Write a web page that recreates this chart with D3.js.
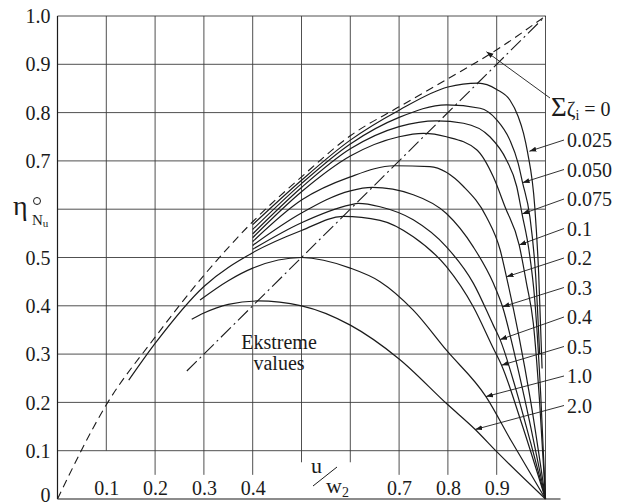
<!DOCTYPE html>
<html>
<head>
<meta charset="utf-8">
<script src="https://cdn.jsdelivr.net/npm/d3@7"></script>
<style>
  html, body { margin: 0; padding: 0; background: #fff; }
  svg, svg text { font-family: "Times New Roman", Times, "Liberation Serif", Tinos, "DejaVu Serif", "Noto Serif", serif; }
</style>
</head>
<body>
<svg id="chart" width="630" height="504"></svg>
<script>
// efficiency eta°_Nu against u/w2 for several loss sums (sum zeta_i)
const yTickLabels = [0, 0.1, 0.2, 0.3, 0.4, 0.5, 0.7, 0.8, 0.9, 1.0];
const xTickLabels = [0.1, 0.2, 0.3, 0.4, 0.7, 0.8, 0.9];
const gridVals = [0.1, 0.2, 0.3, 0.4, 0.5, 0.6, 0.7, 0.8, 0.9, 1.0];

// dashed envelope, sum zeta = 0
const zeta0 = [[0,0],[0.1,0.195],[0.2,0.335],[0.3,0.463],[0.4,0.574],[0.5,0.667],[0.6,0.752],
  [0.7,0.812],[0.8,0.870],[0.9,0.93],[1,1]];
// dash-dot line through the maxima
const extremes = [[0.265,0.265],[1,1]];

const z025 = [[0.4,0.568],[0.5,0.66],[0.6,0.743],[0.7,0.805],[0.8,0.853],[0.862,0.861],[0.9,0.848],
  [0.927,0.826],[0.944,0.792],[0.955,0.757],[0.963,0.719],[0.978,0.605],[0.986,0.467],[0.993,0.27]];
const z050 = [[0.4,0.558],[0.5,0.653],[0.6,0.735],[0.7,0.79],[0.797,0.816],[0.866,0.809],[0.9,0.785],
  [0.927,0.743],[0.944,0.695],[0.953,0.655],[0.968,0.584],[0.98,0.46],[0.988,0.30]];
const z075 = [[0.4,0.549],[0.5,0.645],[0.6,0.725],[0.7,0.771],[0.777,0.783],[0.832,0.778],[0.886,0.75],
  [0.92,0.702],[0.941,0.647],[0.952,0.59],[0.966,0.516],[0.978,0.412],[0.99,0.22],[1,0]];
const z100 = [[0.4,0.541],[0.5,0.636],[0.6,0.71],[0.7,0.75],[0.75,0.757],[0.797,0.75],[0.859,0.723],
  [0.893,0.667],[0.917,0.605],[0.946,0.526],[0.961,0.447],[0.975,0.364],[0.988,0.2],[1,0]];
const z200 = [[0.4,0.533],[0.5,0.619],[0.6,0.667],[0.69,0.69],[0.763,0.688],[0.832,0.647],[0.879,0.584],
  [0.907,0.516],[0.92,0.46],[0.945,0.34],[0.97,0.2],[1,0]];
const z300 = [[0.4,0.525],[0.5,0.592],[0.6,0.638],[0.645,0.645],[0.729,0.63],[0.797,0.591],[0.852,0.522],
  [0.893,0.447],[0.912,0.398],[0.94,0.285],[0.97,0.148],[1,0]];
const z400 = [[0.4,0.517],[0.5,0.572],[0.6,0.609],[0.616,0.612],[0.661,0.605],[0.729,0.578],[0.797,0.522],
  [0.852,0.447],[0.893,0.36],[0.907,0.33],[0.94,0.225],[0.97,0.115],[1,0]];
const z500 = [[0.146,0.246],[0.2,0.322],[0.3,0.44],[0.4,0.51],[0.5,0.556],[0.585,0.585],[0.661,0.577],
  [0.729,0.543],[0.797,0.481],[0.852,0.398],[0.893,0.312],[0.91,0.277],[0.95,0.16],[1,0]];
const z1000 = [[0.292,0.412],[0.35,0.452],[0.4,0.478],[0.5,0.5],[0.6,0.478],[0.661,0.45],[0.729,0.391],
  [0.797,0.308],[0.878,0.212],[0.93,0.12],[1,0]];
const z2000 = [[0.275,0.372],[0.3,0.385],[0.35,0.403],[0.41,0.41],[0.5,0.40],[0.6,0.36],[0.7,0.29],
  [0.8,0.195],[0.856,0.144],[0.9,0.098],[1,0]];

const solidCurves = [z025, z050, z075, z100, z200, z300, z400, z500, z1000, z2000];
const curveLabels = ['0.025','0.050','0.075','0.1','0.2','0.3','0.4','0.5','1.0','2.0'];
// where each leader line touches its curve (data units)
const leaderTargets = [[0.967,0.72],[0.953,0.655],[0.952,0.59],[0.946,0.526],[0.92,0.46],
  [0.912,0.398],[0.907,0.33],[0.91,0.277],[0.878,0.212],[0.856,0.144]];
const zeroTarget = [0.879, 0.926];

const FONT = '"Times New Roman", Times, "Liberation Serif", Tinos, "DejaVu Serif", "Noto Serif", serif';
const svg = d3.select('#chart').attr('font-family', FONT);
const x = d3.scaleLinear().domain([0, 1]).range([57.5, 545.5]);
const y = d3.scaleLinear().domain([0, 1]).range([499, 16]);
const ink = '#1b1b1b', gridInk = '#3c3c3c';

svg.append('defs').append('marker')
  .attr('id', 'arr').attr('markerUnits', 'userSpaceOnUse')
  .attr('markerWidth', 8).attr('markerHeight', 6).attr('refX', 7).attr('refY', 3)
  .attr('orient', 'auto')
  .append('path').attr('d', 'M0,0.5 L7,3 L0,5.5 Z').attr('fill', ink);

// grid
const grid = svg.append('g').attr('stroke', gridInk).attr('stroke-width', 0.9);
gridVals.forEach(v => {
  grid.append('line').attr('x1', x(0)).attr('x2', x(1)).attr('y1', y(v)).attr('y2', y(v));
  const bottom = v === 0.1 ? 0.1 : (v === 0.5 || v === 0.6) ? 0.076 : (v === 1.0 ? 0 : 0.05);
  grid.append('line').attr('x1', x(v)).attr('x2', x(v)).attr('y1', y(1)).attr('y2', y(bottom));
});
// axes lines
svg.append('line').attr('x1', x(0)).attr('x2', x(0)).attr('y1', y(1)).attr('y2', y(0))
  .attr('stroke', ink).attr('stroke-width', 1.2);
svg.append('line').attr('x1', x(0)).attr('x2', x(1) + 15).attr('y1', y(0)).attr('y2', y(0))
  .attr('stroke', ink).attr('stroke-width', 1.2);

// tick labels
const yAxis = svg.append('g').attr('transform', `translate(${x(0)},0)`)
  .call(d3.axisLeft(y).tickValues(yTickLabels).tickSize(0).tickPadding(7)
    .tickFormat(d => d === 0 ? '0' : d.toFixed(1)));
yAxis.attr('font-family', FONT).attr('font-size', 20);
yAxis.select('.domain').remove();
yAxis.selectAll('text').attr('fill', ink).attr('dy', d => d === 0 ? '0.1em' : '0.33em');

const xAxis = svg.append('g').attr('transform', `translate(0,${y(0)})`)
  .call(d3.axisTop(x).tickValues(xTickLabels).tickSize(0).tickPadding(4).tickFormat(d => d.toFixed(1)));
xAxis.attr('font-family', FONT).attr('font-size', 20);
xAxis.select('.domain').remove();
xAxis.selectAll('text').attr('fill', ink);

// curves
const line = d3.line().x(d => x(d[0])).y(d => y(d[1])).curve(d3.curveMonotoneX);
svg.append('path').attr('d', line(zeta0)).attr('fill', 'none').attr('stroke', ink)
  .attr('stroke-width', 1.1).attr('stroke-dasharray', '8,5');
svg.append('path').attr('d', d3.line().x(d => x(d[0])).y(d => y(d[1]))(extremes))
  .attr('fill', 'none').attr('stroke', ink).attr('stroke-width', 1.1).attr('stroke-dasharray', '14,4,2,4');
svg.append('g').selectAll('path').data(solidCurves).join('path')
  .attr('d', line).attr('fill', 'none').attr('stroke', ink).attr('stroke-width', 1.2);

// leader labels
const labelX = 567, labelY0 = 147, labelStep = 29.5;
const labels = svg.append('g').attr('font-size', 20).attr('fill', ink);
curveLabels.forEach((t, i) => {
  const by = labelY0 + i * labelStep;
  labels.append('text').attr('x', labelX).attr('y', by).text(t);
  svg.append('line').attr('x1', labelX - 3).attr('y1', by - 7)
    .attr('x2', x(leaderTargets[i][0])).attr('y2', y(leaderTargets[i][1]))
    .attr('stroke', ink).attr('stroke-width', 0.9).attr('marker-end', 'url(#arr)');
});
const sig = svg.append('text').attr('x', 551).attr('y', 116).attr('fill', ink);
sig.append('tspan').attr('font-size', 27).text('Σ');
sig.append('tspan').attr('font-size', 21).text('ζ');
sig.append('tspan').attr('font-size', 14).attr('dy', 4).text('i');
sig.append('tspan').attr('font-size', 20).attr('dy', -4).text(' = 0');
svg.append('line').attr('x1', 550).attr('y1', 98).attr('x2', x(zeroTarget[0])).attr('y2', y(zeroTarget[1]))
  .attr('stroke', ink).attr('stroke-width', 0.9).attr('marker-end', 'url(#arr)');

// "Ekstreme values"
svg.append('text').attr('x', 279).attr('y', 349).attr('text-anchor', 'middle')
  .attr('font-size', 20).attr('fill', ink).text('Ekstreme');
svg.append('text').attr('x', 279).attr('y', 370).attr('text-anchor', 'middle')
  .attr('font-size', 20).attr('fill', ink).text('values');

// x label u / w2
svg.append('text').attr('x', 311).attr('y', 473).attr('font-size', 22).attr('fill', ink).text('u');
svg.append('line').attr('x1', 313).attr('y1', 486).attr('x2', 337).attr('y2', 467)
  .attr('stroke', ink).attr('stroke-width', 1);
const w2 = svg.append('text').attr('x', 326).attr('y', 493).attr('fill', ink);
w2.append('tspan').attr('font-size', 22).text('w');
w2.append('tspan').attr('font-size', 14).attr('dy', 4).text('2');

// y label eta°_Nu
svg.append('text').attr('x', 13).attr('y', 215).attr('font-size', 28).attr('fill', ink).text('η');
svg.append('circle').attr('cx', 37).attr('cy', 201).attr('r', 3.5)
  .attr('fill', 'none').attr('stroke', ink).attr('stroke-width', 1);
const nu = svg.append('text').attr('x', 32).attr('y', 225).attr('fill', ink);
nu.append('tspan').attr('font-size', 15).text('N');
nu.append('tspan').attr('font-size', 11).attr('dy', 2).text('u');
</script>
</body>
</html>
